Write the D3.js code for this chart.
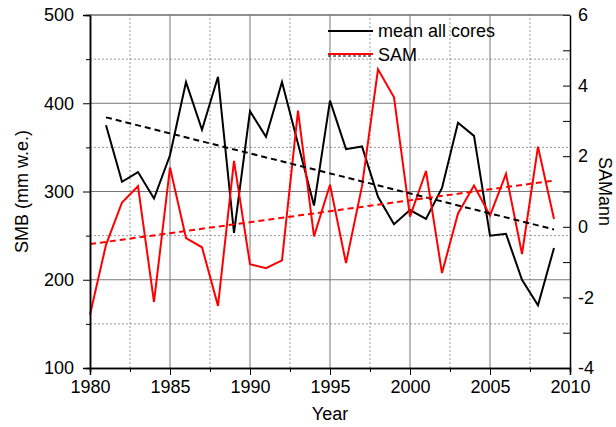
<!DOCTYPE html>
<html>
<head>
<meta charset="utf-8">
<script src="https://cdn.jsdelivr.net/npm/d3@7"></script>
<style>
  body { margin: 0; background: #fff; }
  svg { font-family: "Liberation Sans", Arial, sans-serif; }
</style>
</head>
<body>
<svg id="chart" width="616" height="427"></svg>
<script>
// data
let years = d3.range(1980, 2010)
let smb_years = d3.range(1981, 2010)
let smb = [375, 311, 322, 292, 341, 424, 370, 430, 253, 391,
           362, 424, 354, 284, 403, 348, 351, 294, 263, 279,
           269, 304, 378, 363, 250, 252, 200, 171, 236]
let sam = [-2.49, -0.51, 0.69, 1.15, -2.13, 1.68, -0.32, -0.58, -2.24, 1.87,
           -1.06, -1.17, -0.95, 3.29, -0.27, 1.19, -1.03, 1.15, 4.46, 3.67,
           0.29, 1.58, -1.31, 0.38, 1.17, 0.32, 1.5, -0.77, 2.27, 0.22]
let smb_trend_years = [1981, 2009],
    smb_trend = [384, 257]
let sam_trend_years = [1980, 2009],
    sam_trend = [-0.49, 1.31]
let left_ticks = [100, 200, 300, 400, 500],
    right_ticks = [-4, -2, 0, 2, 4, 6],
    x_ticks = [1980, 1985, 1990, 1995, 2000, 2005, 2010]

let width = 616,
    height = 427,
    margins = {top: 15, bottom: 59, left: 90, right: 46}

let svg = d3.select("#chart")

let x = d3.scaleLinear().domain([1980, 2010]).range([margins.left, width - margins.right])
let y = d3.scaleLinear().domain([100, 500]).range([height - margins.bottom, margins.top])
let y2 = d3.scaleLinear().domain([-4, 6]).range([height - margins.bottom, margins.top])

// grid
let grid = svg.append("g")
let minor_x = d3.range(1982.5, 2010, 5),
    minor_y = d3.range(150, 500, 100)
grid.selectAll(".mx").data(minor_x).enter().append("line")
  .attr("x1", d => x(d)).attr("x2", d => x(d))
  .attr("y1", y(100)).attr("y2", y(500))
  .attr("stroke", "#999").attr("stroke-dasharray", "2,2")
grid.selectAll(".my").data(minor_y).enter().append("line")
  .attr("x1", x(1980)).attr("x2", x(2010))
  .attr("y1", d => y(d)).attr("y2", d => y(d))
  .attr("stroke", "#999").attr("stroke-dasharray", "2,2")
grid.selectAll(".Mx").data(x_ticks.slice(1, -1)).enter().append("line")
  .attr("x1", d => x(d)).attr("x2", d => x(d))
  .attr("y1", y(100)).attr("y2", y(500))
  .attr("stroke", "#777")
grid.selectAll(".My").data(left_ticks.slice(1)).enter().append("line")
  .attr("x1", x(1980)).attr("x2", x(2010))
  .attr("y1", d => y(d)).attr("y2", d => y(d))
  .attr("stroke", "#777")

// series
let line_smb = d3.line().x((d, i) => x(smb_years[i])).y(d => y(d))
let line_sam = d3.line().x((d, i) => x(years[i])).y(d => y2(d))

svg.append("path").attr("d", line_smb(smb))
  .attr("fill", "none").attr("stroke", "#000").attr("stroke-width", 2)
svg.append("path").attr("d", line_sam(sam))
  .attr("fill", "none").attr("stroke", "#ff0000").attr("stroke-width", 2)

svg.append("path")
  .attr("d", d3.line().x((d, i) => x(smb_trend_years[i])).y(d => y(d))(smb_trend))
  .attr("fill", "none").attr("stroke", "#000").attr("stroke-width", 2)
  .attr("stroke-dasharray", "6,4")
svg.append("path")
  .attr("d", d3.line().x((d, i) => x(sam_trend_years[i])).y(d => y2(d))(sam_trend))
  .attr("fill", "none").attr("stroke", "#ff0000").attr("stroke-width", 2)
  .attr("stroke-dasharray", "6,4")

// axes
let font_size = 18

let left_axis = d3.axisLeft(y).tickValues(left_ticks).tickSize(7).tickPadding(9)
svg.append("g").attr("transform", `translate(${margins.left},0)`).call(left_axis)
  .call(g => g.selectAll("text").attr("font-size", font_size).attr("fill", "#000"))
svg.append("g").attr("transform", `translate(${margins.left},0)`)
  .call(d3.axisLeft(y).tickValues(minor_y).tickSize(4).tickFormat(""))

let bottom_axis = d3.axisBottom(x).tickValues(x_ticks).tickSize(7).tickPadding(5).tickFormat(d3.format("d"))
svg.append("g").attr("transform", `translate(0,${height - margins.bottom})`).call(bottom_axis)
  .call(g => g.selectAll("text").attr("font-size", font_size).attr("fill", "#000"))
svg.append("g").attr("transform", `translate(0,${height - margins.bottom})`)
  .call(d3.axisBottom(x).tickValues(minor_x).tickSize(4).tickFormat(""))

let right_axis = d3.axisRight(y2).tickValues(d3.range(-4, 7)).tickSizeInner(-7).tickSizeOuter(0)
  .tickPadding(8).tickFormat(d => right_ticks.includes(d) ? d3.format("d")(d).replace("−", "-") : "")
svg.append("g").attr("transform", `translate(${width - margins.right},0)`).call(right_axis)
  .call(g => g.selectAll("text").attr("font-size", font_size).attr("fill", "#000"))

svg.selectAll(".domain").attr("stroke", "#000").attr("stroke-width", 1.5)
svg.selectAll(".tick line").attr("stroke", "#000")

// top border
svg.append("line").attr("x1", x(1980)).attr("x2", x(2010)).attr("y1", y(500)).attr("y2", y(500))
  .attr("stroke", "#666")

// axis titles
svg.append("text").attr("x", (x(1980) + x(2010)) / 2).attr("y", 420)
  .attr("text-anchor", "middle").attr("font-size", font_size).text("Year")
svg.append("text").attr("transform", `translate(28,${(y(100) + y(500)) / 2}) rotate(-90)`)
  .attr("text-anchor", "middle").attr("font-size", font_size).text("SMB (mm w.e.)")
svg.append("text").attr("transform", `translate(599,${(y(100) + y(500)) / 2}) rotate(90)`)
  .attr("text-anchor", "middle").attr("font-size", font_size).text("SAMann")

// legend
let legend = svg.append("g")
legend.append("line").attr("x1", 328).attr("x2", 373).attr("y1", 31).attr("y2", 31)
  .attr("stroke", "#000").attr("stroke-width", 2)
legend.append("line").attr("x1", 328).attr("x2", 373).attr("y1", 56).attr("y2", 56)
  .attr("stroke", "#000").attr("stroke-width", 1).attr("stroke-dasharray", "3,2")
legend.append("line").attr("x1", 328).attr("x2", 373).attr("y1", 54).attr("y2", 54)
  .attr("stroke", "#ff0000").attr("stroke-width", 2)
legend.append("text").attr("x", 378).attr("y", 37).attr("font-size", font_size).text("mean all cores")
legend.append("text").attr("x", 378).attr("y", 61).attr("font-size", font_size).text("SAM")
</script>
</body>
</html>
